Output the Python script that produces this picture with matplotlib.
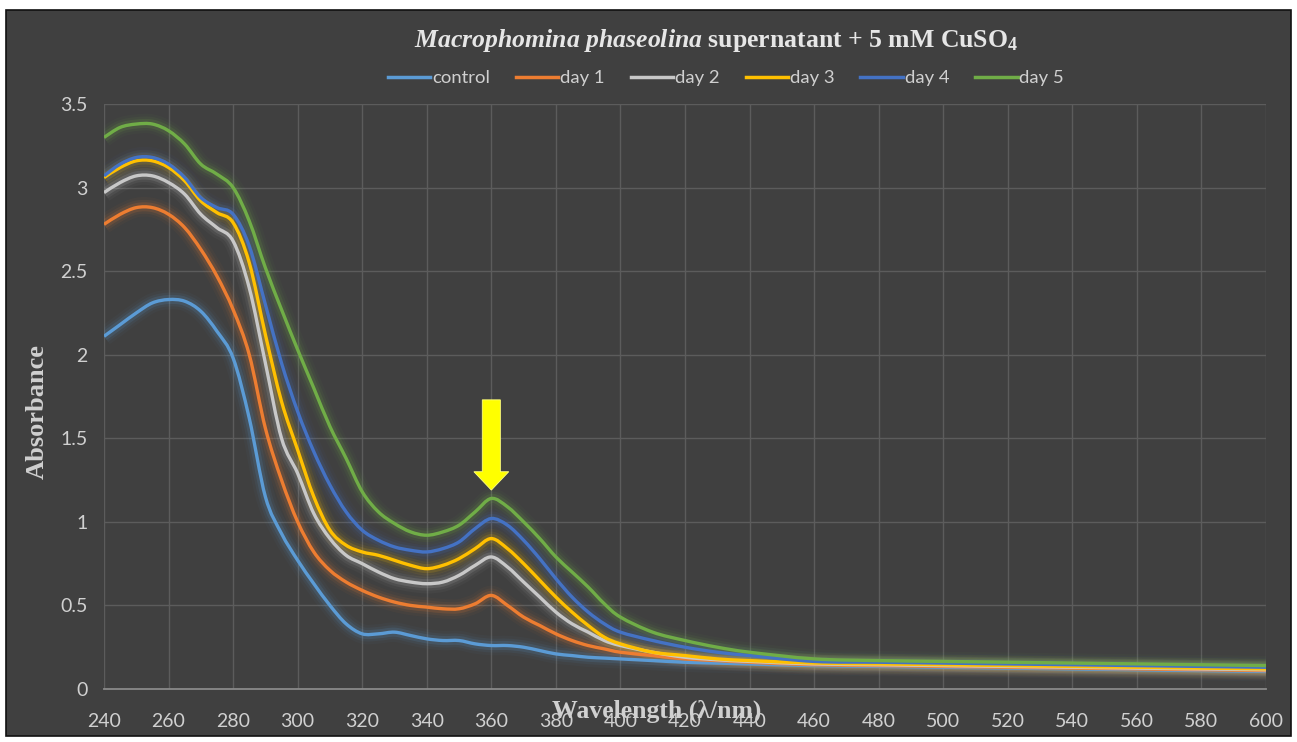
import matplotlib.pyplot as plt
import matplotlib.patches as patches
from matplotlib.lines import Line2D
from matplotlib.path import Path

plt.rcParams['mathtext.fontset'] = 'custom'
plt.rcParams['mathtext.it'] = 'Liberation Serif:italic:bold'
plt.rcParams['mathtext.rm'] = 'Liberation Serif:bold'
plt.rcParams['mathtext.bf'] = 'Liberation Serif:bold'

# UV-vis spectra of the supernatant with CuSO4 over five days
wavelength = [240, 245, 250, 255, 260, 265, 270, 275, 280, 285, 290, 295, 300,
              305, 310, 315, 320, 325, 330, 335, 340, 345, 350, 355, 360, 365,
              370, 375, 380, 385, 390, 395, 400, 410, 420, 430, 440, 460, 480,
              500, 520, 540, 560, 580, 600]

control = [2.11, 2.18, 2.25, 2.31, 2.33, 2.32, 2.26, 2.14, 1.98, 1.62, 1.15, 0.93, 0.77,
           0.63, 0.50, 0.39, 0.33, 0.33, 0.34, 0.32, 0.30, 0.29, 0.29, 0.27, 0.26, 0.26,
           0.25, 0.23, 0.21, 0.20, 0.19, 0.185, 0.18, 0.17, 0.16, 0.155, 0.15, 0.14, 0.135,
           0.13, 0.125, 0.12, 0.115, 0.11, 0.105]
day1 = [2.78, 2.84, 2.88, 2.88, 2.84, 2.76, 2.63, 2.47, 2.27, 2.00, 1.56, 1.25, 1.00,
        0.82, 0.71, 0.64, 0.59, 0.55, 0.52, 0.50, 0.49, 0.48, 0.48, 0.51, 0.56, 0.50,
        0.43, 0.38, 0.33, 0.29, 0.26, 0.24, 0.22, 0.20, 0.18, 0.17, 0.16, 0.145, 0.14,
        0.135, 0.13, 0.125, 0.12, 0.115, 0.11]
day2 = [2.97, 3.03, 3.07, 3.07, 3.03, 2.96, 2.84, 2.76, 2.68, 2.40, 1.95, 1.50, 1.29,
        1.05, 0.90, 0.80, 0.75, 0.70, 0.66, 0.64, 0.63, 0.64, 0.68, 0.74, 0.79, 0.73,
        0.64, 0.55, 0.46, 0.39, 0.34, 0.29, 0.26, 0.22, 0.19, 0.175, 0.165, 0.15, 0.145,
        0.14, 0.135, 0.13, 0.125, 0.12, 0.115]
day3 = [3.06, 3.12, 3.16, 3.16, 3.12, 3.04, 2.92, 2.85, 2.79, 2.55, 2.12, 1.72, 1.43,
        1.15, 0.95, 0.86, 0.82, 0.80, 0.77, 0.74, 0.72, 0.74, 0.78, 0.84, 0.90, 0.84,
        0.75, 0.65, 0.55, 0.46, 0.38, 0.31, 0.27, 0.22, 0.20, 0.18, 0.17, 0.155, 0.15,
        0.145, 0.14, 0.135, 0.13, 0.125, 0.12]
day4 = [3.07, 3.14, 3.18, 3.18, 3.14, 3.06, 2.94, 2.88, 2.84, 2.65, 2.30, 1.95, 1.66,
        1.42, 1.22, 1.06, 0.95, 0.89, 0.85, 0.83, 0.82, 0.84, 0.88, 0.96, 1.02, 0.98,
        0.89, 0.78, 0.66, 0.55, 0.46, 0.39, 0.34, 0.29, 0.25, 0.22, 0.20, 0.165, 0.16,
        0.155, 0.15, 0.145, 0.14, 0.135, 0.13]
day5 = [3.30, 3.36, 3.38, 3.38, 3.34, 3.26, 3.14, 3.08, 3.00, 2.80, 2.52, 2.27, 2.03,
        1.80, 1.57, 1.38, 1.18, 1.06, 0.99, 0.94, 0.92, 0.94, 0.98, 1.06, 1.14, 1.09,
        1.00, 0.90, 0.79, 0.70, 0.61, 0.51, 0.43, 0.34, 0.29, 0.25, 0.22, 0.18, 0.17,
        0.165, 0.16, 0.155, 0.15, 0.145, 0.14]

series_names = ['control', 'day 1', 'day 2', 'day 3', 'day 4', 'day 5']
series_values = [control, day1, day2, day3, day4, day5]
series_colors = ['#5B9BD5', '#ED7D31', '#C8C8C8', '#FFC000', '#4472C4', '#70AD47']

x_ticks = list(range(240, 601, 20))
y_ticks = [0, 0.5, 1, 1.5, 2, 2.5, 3, 3.5]
y_tick_labels = ['0', '0.5', '1', '1.5', '2', '2.5', '3', '3.5']

W, H = 1297, 742
bg = '#404040'
text_col = '#d0d0d0'
grid_col = '#5c5c5c'


def smooth_path(xs, ys):
    """Smoothed line through the points (Catmull-Rom segments as cubic Beziers)."""
    pts = list(zip(xs, ys))
    verts = [pts[0]]
    codes = [Path.MOVETO]
    n = len(pts)
    for i in range(n - 1):
        p0 = pts[max(i - 1, 0)]
        p1 = pts[i]
        p2 = pts[i + 1]
        p3 = pts[min(i + 2, n - 1)]
        c1 = (p1[0] + (p2[0] - p0[0]) / 6, p1[1] + (p2[1] - p0[1]) / 6)
        c2 = (p2[0] - (p3[0] - p1[0]) / 6, p2[1] - (p3[1] - p1[1]) / 6)
        verts += [c1, c2, p2]
        codes += [Path.CURVE4] * 3
    return Path(verts, codes)


fig = plt.figure(figsize=(W / 100, H / 100), dpi=100, facecolor='white')

# dark chart area with thin black border
fig.patches.append(patches.Rectangle((6 / W, 1 - 736 / H), 1285 / W, 726 / H,
                                     transform=fig.transFigure, facecolor=bg,
                                     edgecolor='#111111', linewidth=1.2, zorder=-5))

ax = fig.add_axes([104 / W, 1 - 689 / H, 1162 / W, 585 / H])
ax.set_zorder(2)
ax.set_facecolor(bg)
ax.set_xlim(240, 600)
ax.set_ylim(0, 3.5)

for x in x_ticks:
    ax.axvline(x, color=grid_col, linewidth=1, zorder=1)
for y in y_ticks[1:]:
    ax.axhline(y, color=grid_col, linewidth=1, zorder=1)

for s in ['top', 'right', 'left']:
    ax.spines[s].set_visible(False)
ax.spines['bottom'].set_color('#8a8a8a')
ax.spines['bottom'].set_linewidth(1.3)

# soft glow under each spectrum, then the line itself
for vals, col in zip(series_values, series_colors):
    path = smooth_path(wavelength, vals)
    for lw, a in [(14, 0.04), (10, 0.07), (6.5, 0.14)]:
        ax.add_patch(patches.PathPatch(path, fill=False, edgecolor=col, linewidth=lw,
                                       alpha=a, capstyle='butt', joinstyle='round',
                                       zorder=2))
for vals, col in zip(series_values, series_colors):
    ax.add_patch(patches.PathPatch(smooth_path(wavelength, vals), fill=False,
                                   edgecolor=col, linewidth=2.4, joinstyle='round',
                                   zorder=3))

# arrow marking the band near 360 nm
ax.add_patch(patches.FancyArrow(360, 1.73, 0, -0.54, width=5.6, head_width=10.8,
                                head_length=0.11, length_includes_head=True,
                                facecolor='#FFFF00', edgecolor='#FFFF80',
                                linewidth=0.6, zorder=5))

ax.set_xticks(x_ticks)
ax.set_yticks(y_ticks)
ax.set_yticklabels(y_tick_labels)
ax.tick_params(length=0, colors=text_col, labelsize=14)
for lab in ax.get_xticklabels() + ax.get_yticklabels():
    lab.set_fontfamily('Lato')
ax.tick_params(axis='x', pad=17)
ax.tick_params(axis='y', pad=12)

fig.text(716 / W, 1 - 41 / H,
         r'$\mathit{Macrophomina\ phaseolina}$ supernatant + 5 mM CuSO$_\mathrm{4}$',
         ha='center', va='center', fontsize=18.5, fontweight='bold',
         family='Liberation Serif', color='#e6e6e6')

fig.text(37 / W, 1 - 412 / H, 'Absorbance', rotation=90, ha='center', va='center',
         fontsize=19, fontweight='bold', family='Liberation Serif', color=text_col)
fig.text(657 / W, 1 - 711 / H, 'Wavelength (λ/nm)', ha='center', va='center',
         fontsize=18.5, fontweight='bold', family='Liberation Serif', color=text_col,
         zorder=5)

handles = [Line2D([0], [0], color=c, linewidth=2.5) for c in series_colors]
leg = fig.legend(handles, series_names, loc='center', ncol=6,
                 bbox_to_anchor=(726 / W, 1 - 78 / H), frameon=False,
                 handlelength=2.3, handletextpad=0.1, columnspacing=1.4,
                 prop={'family': 'Lato', 'size': 13.3})
for t in leg.get_texts():
    t.set_color(text_col)

fig.savefig('out.png', dpi=100, facecolor='white')
